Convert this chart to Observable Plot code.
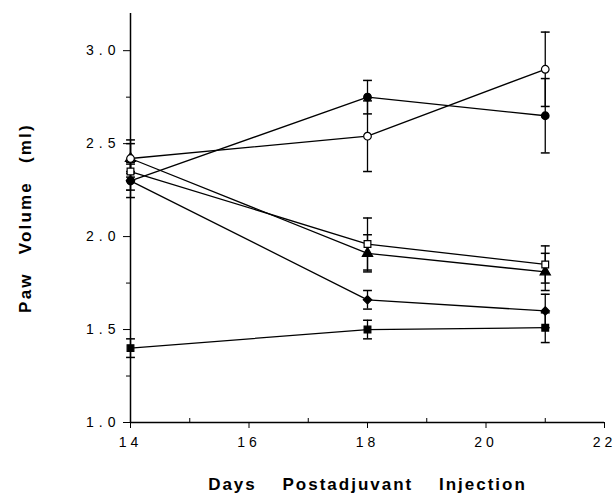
<!DOCTYPE html>
<html>
<head>
<meta charset="utf-8">
<script src="https://cdn.jsdelivr.net/npm/d3@7"></script>
<script src="https://cdn.jsdelivr.net/npm/@observablehq/plot@0.6"></script>
<style>
  html, body { margin: 0; padding: 0; background: #fff; }
  svg { font-family: "Liberation Sans", Arial, sans-serif; }
  g[aria-label="y-axis tick label"] text { letter-spacing: 5px; }
  g[aria-label="x-axis tick label"] text { letter-spacing: 4px; }
  .xttl text { font-weight: bold; letter-spacing: 2px; word-spacing: 19px; }
  .yttl text { font-weight: bold; letter-spacing: 2.2px; word-spacing: 11px; }
</style>
</head>
<body>
<div id="chart"></div>
<script>
// ---- data ----
const days = [14, 18, 21];
const filledCircle   = [2.30, 2.75, 2.65];
const filledCircleE  = [0.05, 0.09, 0.20];
const openCircle     = [2.42, 2.54, 2.90];
const openCircleE    = [0.10, 0.19, 0.20];
const openSquare     = [2.35, 1.96, 1.85];
const openSquareE    = [0.05, 0.14, 0.10];
const filledTriangle = [2.42, 1.91, 1.81];
const filledTriangleE= [0.08, 0.10, 0.10];
const filledDiamond  = [2.30, 1.66, 1.60];
const filledDiamondE = [0.09, 0.05, 0.09];
const filledSquare   = [1.40, 1.50, 1.51];
const filledSquareE  = [0.05, 0.05, 0.08];

const xMajorTicks = [14, 16, 18, 20, 22];
const xMinorTicks = [15, 17, 19, 21];
const yMajorTicks = [1.0, 1.5, 2.0, 2.5, 3.0];
const yMinorTicks = [1.25, 1.75, 2.25, 2.75];
const xLabel = "Days Postadjuvant Injection";
const yLabel = "Paw Volume (ml)";

// ---- symbols ----
const capSym = { draw(ctx, size) { const r = Math.sqrt(size) / 2; ctx.moveTo(-r, 0); ctx.lineTo(r, 0); } };
// drawing order: filled first, open markers last (on top)
const seriesDefs = [
  { name: "filledTriangle", v: filledTriangle, e: filledTriangleE, symbol: "triangle", fill: "black" },
  { name: "filledDiamond",  v: filledDiamond,  e: filledDiamondE,  symbol: "diamond2", fill: "black" },
  { name: "filledSquare",   v: filledSquare,   e: filledSquareE,   symbol: "square",   fill: "black" },
  { name: "filledCircle",   v: filledCircle,   e: filledCircleE,   symbol: "circle",   fill: "black" },
  { name: "openSquare",     v: openSquare,     e: openSquareE,     symbol: "square",   fill: "white" },
  { name: "openCircle",     v: openCircle,     e: openCircleE,     symbol: "circle",   fill: "white" }
];
const rows = [];
for (const s of seriesDefs) {
  days.forEach((d, i) => rows.push({ series: s.name, day: d, v: s.v[i], lo: s.v[i] - s.e[i], hi: s.v[i] + s.e[i], symbol: s.symbol, fill: s.fill }));
}
const caps = rows.flatMap(r => [{ day: r.day, y: r.lo }, { day: r.day, y: r.hi }]);

const chart = Plot.plot({
  width: 615,
  height: 501,
  marginLeft: 130,
  marginRight: 11,
  marginTop: 13,
  marginBottom: 79,
  style: { fontSize: "13px", background: "white", color: "black" },
  x: { domain: [14, 22] },
  y: { domain: [1.0, 3.2] },
  symbol: { type: "identity" },
  color: { type: "identity" },
  marks: [
    Plot.ruleX([14], { stroke: "black", strokeWidth: 1.5 }),
    Plot.ruleY([1.0], { stroke: "black", strokeWidth: 1.5 }),
    Plot.axisX({ ticks: xMajorTicks, tickSize: 6, tickPadding: 9, tickFormat: d => String(d), label: null, fontSize: 14 }),
    Plot.axisX({ ticks: xMinorTicks, tickSize: -4, text: null, label: null }),
    Plot.axisY({ ticks: yMajorTicks, tickSize: 7, tickPadding: 3, tickFormat: d => d.toFixed(1), label: null, fontSize: 14 }),
    Plot.axisY({ ticks: yMinorTicks, tickSize: 4, text: null, label: null }),
    Plot.line(rows, { x: "day", y: "v", z: "series", stroke: "black", strokeWidth: 1.3 }),
    Plot.ruleX(rows, { x: "day", y1: "lo", y2: "hi", stroke: "black", strokeWidth: 1.3 }),
    Plot.dot(caps, { x: "day", y: "y", symbol: capSym, r: 5, stroke: "black", strokeWidth: 1.5, fill: "none" }),
    Plot.dot(rows, { x: "day", y: "v", symbol: d => d.symbol, fill: d => d.fill, stroke: "black", strokeWidth: 1.2, r: 3.8 }),
    Plot.text([xLabel], { frameAnchor: "bottom", dy: 67, fontSize: 17, className: "xttl", text: d => d }),
    Plot.text([yLabel], { frameAnchor: "left", textAnchor: "middle", dx: -105, rotate: -90, fontSize: 17, className: "yttl", text: d => d })
  ]
});
document.getElementById("chart").appendChild(chart);
</script>
</body>
</html>
